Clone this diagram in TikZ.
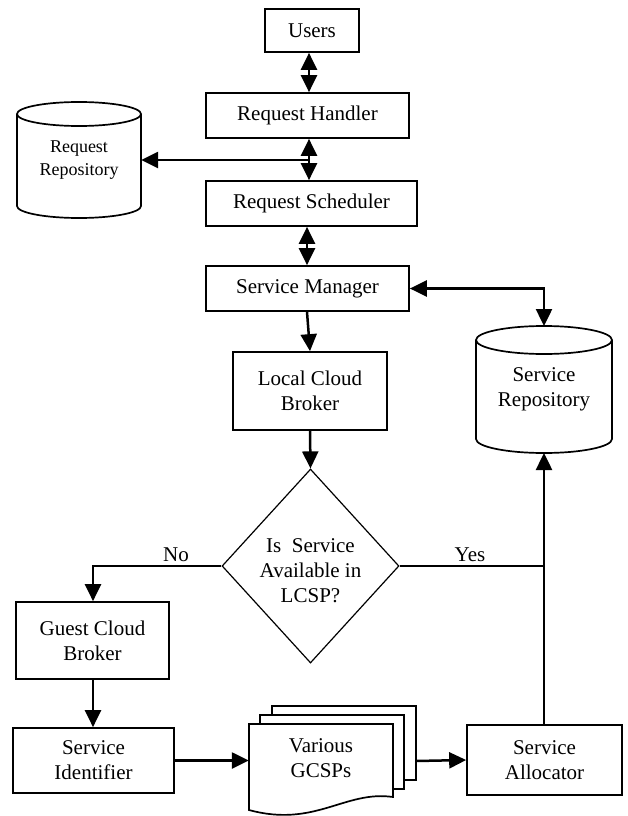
\documentclass[tikz,border=0pt]{standalone}
\usepackage{fontspec}
\setmainfont{Liberation Serif}
\usetikzlibrary{arrows.meta,shapes.geometric}
\begin{document}
\begin{tikzpicture}[x=1pt,y=-1pt,
  txt/.style={inner sep=0pt, align=center, font=\fontsize{21}{25}\selectfont},
  box/.style={txt, draw, line width=1.7pt},
  shp/.style={line width=1.7pt},
  conn/.style={line width=2.5pt, -{Triangle[length=17pt,width=16pt]}},
  dconn/.style={line width=2.5pt, {Triangle[length=17pt,width=16pt]}-{Triangle[length=17pt,width=16pt]}},
  plain/.style={line width=2.5pt}]
\useasboundingbox (0,0) rectangle (628,816);

% boxes
\node[box, minimum width=94pt, minimum height=43pt] (users) at (312,30.5) {Users};
\node[box, minimum width=203pt, minimum height=45pt] (rh) at (307.5,115.5) {Request Handler};
\node[box, minimum width=211pt, minimum height=45pt] (rs) at (311.5,203.5) {Request Scheduler};
\node[box, minimum width=203pt, minimum height=45pt] (sm) at (307.5,288.5) {Service Manager};
\node[box, minimum width=154pt, minimum height=78pt] (lcb) at (310,391) {Local Cloud\\Broker};
\node[box, minimum width=153pt, minimum height=77pt] (gcb) at (92.5,640.5) {Guest Cloud\\Broker};
\node[box, minimum width=161pt, minimum height=65pt] (si) at (93.5,760.5) {Service\\Identifier};
\node[box, minimum width=155pt, minimum height=70pt] (sa) at (544.5,760) {Service\\Allocator};

% request repository cylinder
\draw[shp, fill=white] (17,114) -- (17,206) arc[start angle=180, end angle=360, x radius=62pt, y radius=12pt] -- (141,114);
\draw[shp] (79,114) ellipse [x radius=62pt, y radius=12pt];
\node[txt, font=\fontsize{18}{23}\selectfont, minimum width=124pt, minimum height=116pt] (rrepo) at (79,160) {Request\\Repository};

% service repository cylinder
\draw[shp, fill=white] (476,340) -- (476,439) arc[start angle=180, end angle=360, x radius=68pt, y radius=14pt] -- (612,340);
\draw[shp] (544,340) ellipse [x radius=68pt, y radius=14pt];
\node[txt, minimum width=136pt, minimum height=127pt] (srepo) at (544,389.5) {Service\\Repository};

% decision
\node[diamond, draw, line width=1.2pt, minimum width=177pt, minimum height=194pt, inner sep=0pt] (dec) at (310.5,566) {};
\node[txt] (dectext) at (310.5,571) {Is\ \ Service\\Available in\\LCSP?};

% document stack
\draw[shp, fill=white] (272,706) rectangle (416,780);
\draw[shp, fill=white] (260,715) rectangle (404,789);
\draw[shp, fill=white] (249,724) -- (393,724) -- (393,797) .. controls (345,790) and (315,828) .. (249,810) -- cycle;
\node[txt, minimum width=144pt, minimum height=70pt] (gcsp) at (321,758.5) {Various\\GCSPs};
\coordinate (gback) at (416,761);

% labels
\node[txt] (no) at (176,555) {No};
\node[txt] (yes) at (470,555) {Yes};

% connectors
\coordinate (cx) at (309,0);
\coordinate (jr) at (309,160);
\coordinate (cs) at (307,0);
\coordinate (smr) at (544,288.5);
\coordinate (jy) at (544,566);
\coordinate (jn) at (93,566);
\draw[dconn] (users.south -| cx) -- (rh.north -| cx);
\draw[dconn] (rh.south -| cx) -- (rs.north -| cx);
\draw[conn] (jr) -- (rrepo.east);
\draw[dconn] (rs.south -| cs) -- (sm.north -| cs);
\draw[conn] (sm.south -| cs) -- (lcb.north);
\draw[dconn] (sm.east) -- (smr) -- (544,326);
\draw[conn] (lcb.south) -- (dec.north);
\draw[plain] (dec.east) -- (jy);
\draw[conn] (sa.north -| jy) -- (544,453);
\draw[conn] (dec.west) -- (jn) -- (gcb.north -| jn);
\draw[conn] (gcb.south -| jn) -- (si.north -| jn);
\draw[conn] (si.east) -- (gcsp.west |- si.east);
\draw[conn] (gback) -- (sa.west);
\end{tikzpicture}
\end{document}
